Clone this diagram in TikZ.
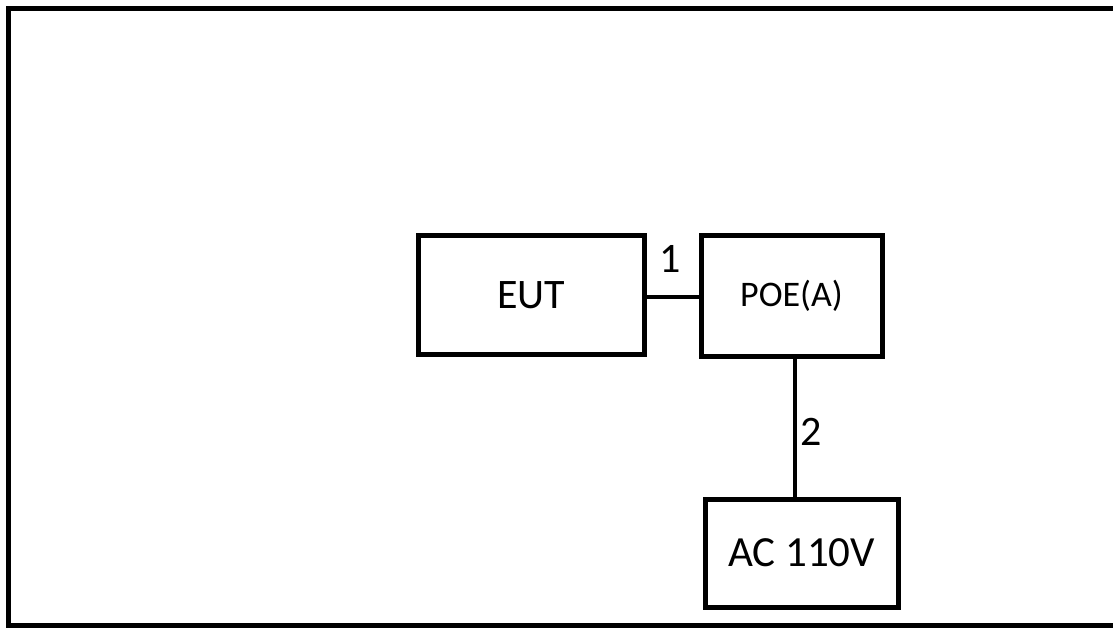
\documentclass[tikz,border=0pt]{standalone}
\usepackage{fontspec}
\setmainfont{Carlito}
\begin{document}
\begin{tikzpicture}[x=1pt,y=-1pt,
  box/.style={draw=black,line width=5pt,fill=white,inner sep=0pt},
  wire/.style={draw=black,line width=4.5pt},
  lbl/.style={inner sep=0pt,font=\fontsize{42}{48}\selectfont}]
\clip (0,0) rectangle (1113,628);
\fill[white] (0,0) rectangle (1113,628);
\draw[line width=5pt] (8.5,8.5) rectangle (1125,625.5);
\node[box,minimum width=226pt,minimum height=118.5pt,font=\fontsize{42}{48}\selectfont] (EUT) at (531,295) {EUT};
\node[box,minimum width=181pt,minimum height=120.5pt,font=\fontsize{36}{42}\selectfont] (POE) at (791.5,296) {POE(A)};
\node[box,minimum width=193pt,minimum height=108pt,font=\fontsize{43}{48}\selectfont] (AC) at (801.5,553) {AC 110V};
\draw[wire] ([yshift=-2pt]EUT.east) -- ([yshift=-2pt]EUT.east -| POE.west);
\draw[wire] ([xshift=3.5pt]POE.south) -- ([xshift=3.5pt]POE.south |- AC.north);
\node[lbl] (l1) at (670,259) {1};
\node[lbl] (l2) at (811,432) {2};
\end{tikzpicture}
\end{document}
